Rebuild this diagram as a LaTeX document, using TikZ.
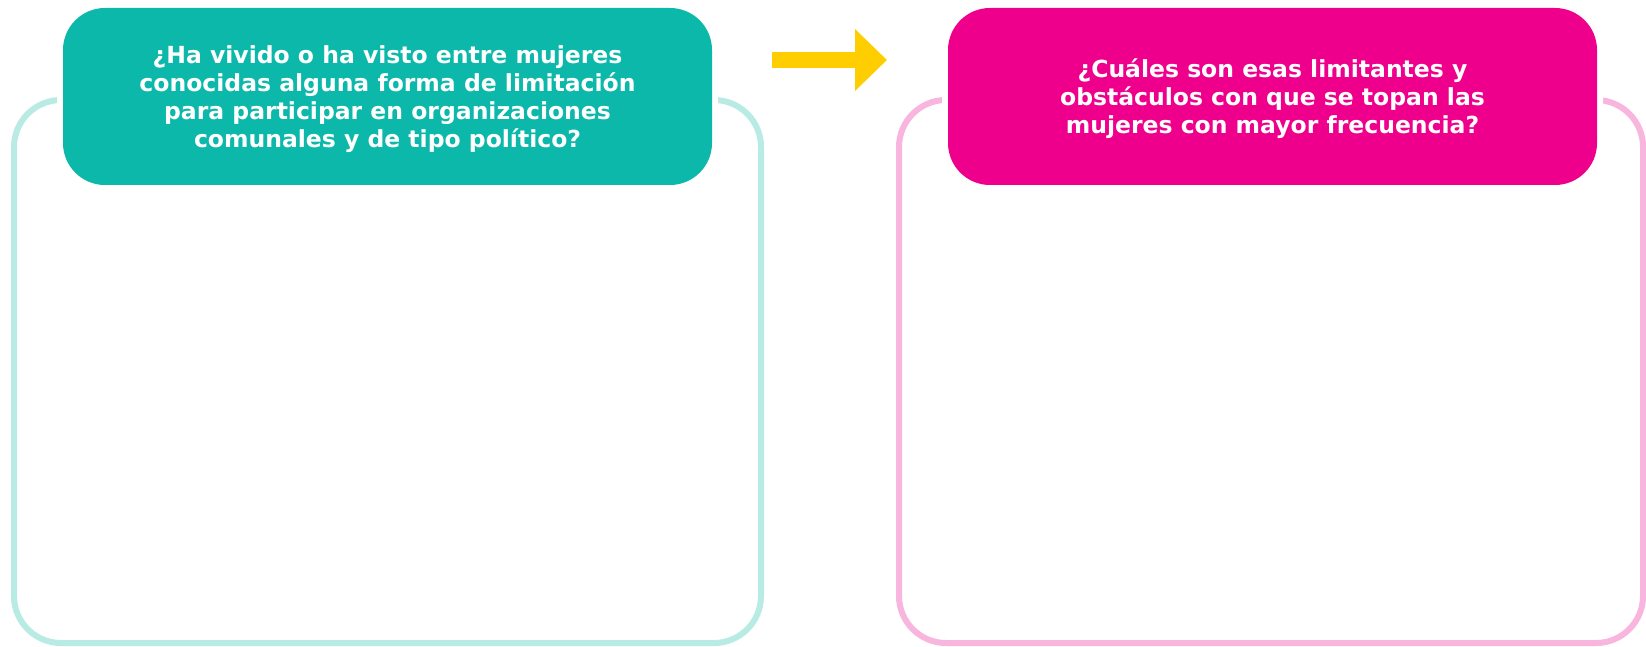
\documentclass[tikz,border=0pt]{standalone}
\usepackage{fontspec}
\setmainfont{DejaVu Sans}
\usetikzlibrary{arrows.meta}
\definecolor{tealbox}{HTML}{0BB8AA}
\definecolor{tealframe}{HTML}{B8EBE4}
\definecolor{pinkbox}{HTML}{EE008C}
\definecolor{pinkframe}{HTML}{F8B5DD}
\definecolor{arrowyellow}{HTML}{FFCE00}
\tikzset{
  framebox/.style={line width=6pt, rounded corners=47pt},
  qbox/.style={minimum width=649pt, minimum height=177pt, rounded corners=42pt,
    preaction={draw=white, line width=12pt}, inner sep=0pt},
  qtext/.style={inner sep=0pt, text=white,
    font=\bfseries\fontsize{23.5}{28}\selectfont, align=center},
}
\begin{document}
\begin{tikzpicture}[x=1pt,y=-1pt]
\useasboundingbox[fill=white] (0,0) rectangle (1646,647);
% frames
\draw[framebox, draw=tealframe] (14,100) rectangle (761,643);
\draw[framebox, draw=pinkframe] (899,100) rectangle (1643,643);
% question boxes
\node[qbox, fill=tealbox] (q1) at (387.5,96.5) {};
\node[qbox, fill=pinkbox] (q2) at (1272.5,96.5) {};
\node[qtext] (t1) at (387.5,99) {¿Ha vivido o ha visto entre mujeres\\conocidas alguna forma de limitación\\para participar en organizaciones\\comunales y de tipo político?};
\node[qtext] (t2) at (1272.5,99) {¿Cuáles son esas limitantes y\\obstáculos con que se topan las\\mujeres con mayor frecuencia?};
% arrow
\coordinate (a1) at (772,60);
\coordinate (a2) at (887,60);
\draw[arrowyellow, line width=16pt, -{Triangle[length=32pt 0 0, width=60pt 0 0]}] (a1) -- (a2);
\end{tikzpicture}
\end{document}
